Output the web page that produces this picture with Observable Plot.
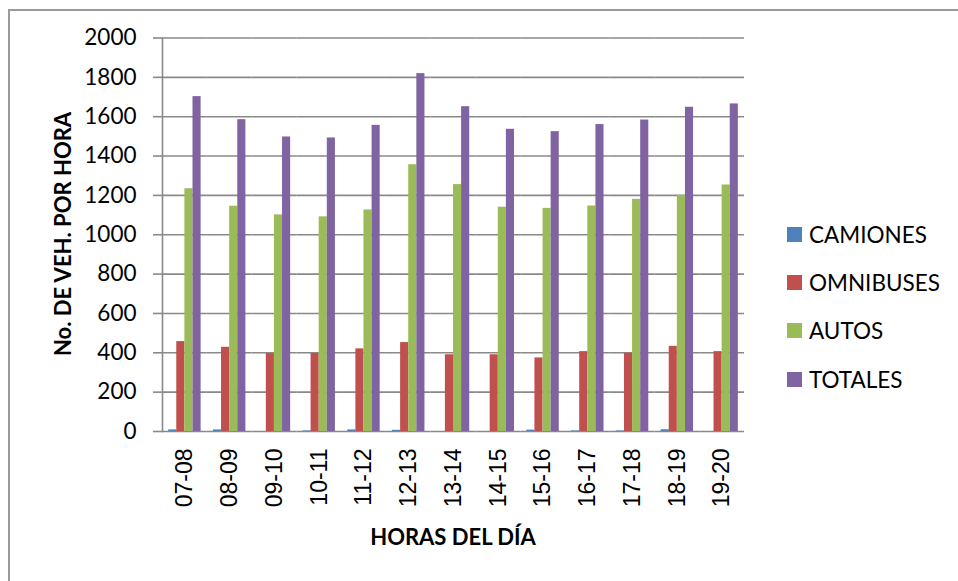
<!DOCTYPE html>
<html>
<head>
<meta charset="utf-8">
<script src="https://cdn.jsdelivr.net/npm/d3@7"></script>
<script src="https://cdn.jsdelivr.net/npm/@observablehq/plot@0.6"></script>
<style>
  html, body { margin: 0; padding: 0; background: #fff; }
  #wrap { position: relative; width: 958px; height: 581px; overflow: hidden; font-family: Lato, "Noto Sans", sans-serif; }
  #border { position: absolute; left: 8px; top: 9px; width: 1000px; height: 700px; border: 2px solid #9a9a9a; box-sizing: border-box; }
  #chart { position: absolute; left: 0; top: 0; }
  .ytitle { position: absolute; left: 62px; top: 234px; transform: translate(-50%, -50%) rotate(-90deg); font-weight: 700; font-size: 22px; white-space: nowrap; color: #000; }
  .xtitle { position: absolute; left: 453px; top: 536px; transform: translate(-50%, -50%); font-weight: 700; font-size: 22px; white-space: nowrap; color: #000; }
  .legend { position: absolute; left: 787px; top: 210px; }
  .legend .item { display: flex; align-items: center; height: 48.3px; font-size: 22.5px; color: #000; }
  .legend .sw { width: 15px; height: 15px; margin-right: 7px; }
</style>
</head>
<body>
<div id="wrap">
  <div id="border"></div>
  <div id="chart"></div>
  <div class="ytitle">No. DE VEH. POR HORA</div>
  <div class="xtitle">HORAS DEL DÍA</div>
  <div class="legend" id="legend"></div>
</div>
<script>
const hours = ["07-08","08-09","09-10","10-11","11-12","12-13","13-14","14-15","15-16","16-17","17-18","18-19","19-20"];
const series = ["CAMIONES","OMNIBUSES","AUTOS","TOTALES"];
const colors = ["#4F81BD","#C0504D","#9BBB59","#8064A2"];
const camiones  = [8, 8, 0, 3, 8, 6, 0, 0, 7, 3, 3, 9, 0];
const omnibuses = [457, 428, 396, 397, 420, 452, 390, 390, 374, 406, 398, 433, 406];
const autos     = [1234, 1145, 1101, 1091, 1126, 1356, 1255, 1140, 1134, 1146, 1180, 1200, 1253];
const totales   = [1702, 1585, 1497, 1492, 1556, 1819, 1651, 1536, 1524, 1560, 1583, 1648, 1665];
const yTicks = [0,200,400,600,800,1000,1200,1400,1600,1800,2000];

const valuesBySeries = [camiones, omnibuses, autos, totales];
const rows = [];
hours.forEach((h, i) => series.forEach((s, k) => rows.push({hour: h, series: s, value: valuesBySeries[k][i]})));

const grid = "#898989";
const chart = Plot.plot({
  width: 958,
  height: 581,
  marginLeft: 162,
  marginRight: 214,
  marginTop: 37.5,
  marginBottom: 150,
  style: {fontFamily: "Lato, sans-serif", background: "transparent", color: "#000"},
  fx: {domain: hours, padding: 0, round: false, label: null},
  x: {domain: series, paddingInner: 0, paddingOuter: 0.76, round: false, axis: null},
  y: {domain: [0, 2000], label: null},
  color: {domain: series, range: colors},
  marks: [
    Plot.ruleY(yTicks, {stroke: grid, strokeWidth: 1.6}),
    Plot.frame({anchor: "left", facetAnchor: "left", stroke: grid, strokeWidth: 1.6}),
    Plot.barY(rows, {fx: "hour", x: "series", y: "value", fill: "series"}),
    Plot.axisY({ticks: yTicks, tickSize: 9, tickPadding: 17, fontSize: 22.5, stroke: grid, strokeWidth: 1.6, label: null, tickFormat: d => String(d)}),
    Plot.axisFx({anchor: "bottom", tickRotate: -90, tickSize: 0, tickPadding: 17, fontSize: 23, fontFamily: "Liberation Sans, Arial, sans-serif", label: null})
  ]
});
document.getElementById("chart").appendChild(chart);

const legend = document.getElementById("legend");
series.forEach((s, k) => {
  const item = document.createElement("div");
  item.className = "item";
  const sw = document.createElement("div");
  sw.className = "sw";
  sw.style.background = colors[k];
  const t = document.createElement("span");
  t.textContent = s;
  item.appendChild(sw);
  item.appendChild(t);
  legend.appendChild(item);
});
</script>
</body>
</html>
